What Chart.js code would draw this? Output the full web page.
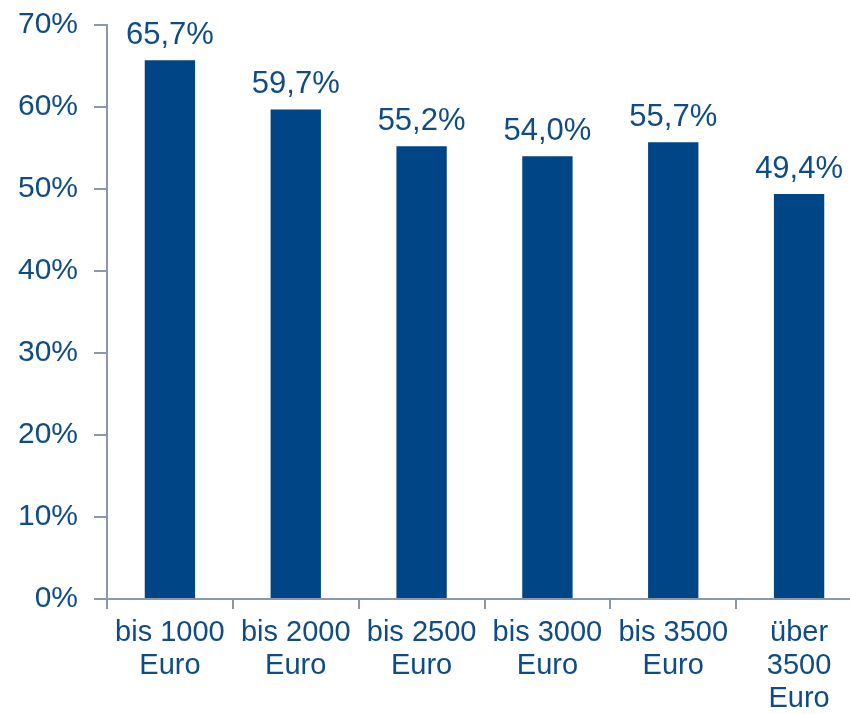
<!DOCTYPE html>
<html>
<head>
<meta charset="utf-8">
<script src="https://cdn.jsdelivr.net/npm/chart.js@4/dist/chart.umd.min.js"></script>
<style>
  html, body { margin: 0; padding: 0; background: #fff; overflow: hidden; }
  #wrap { width: 862px; height: 714px; }
</style>
</head>
<body>
<div id="wrap"><canvas id="incomeChart" width="862" height="714"></canvas></div>
<script>
const categories = [['bis 1000', 'Euro'], ['bis 2000', 'Euro'], ['bis 2500', 'Euro'], ['bis 3000', 'Euro'], ['bis 3500', 'Euro'], ['über', '3500', 'Euro']];
const shares = [65.7, 59.7, 55.2, 54.0, 55.7, 49.4];
const yTicks = [0, 10, 20, 30, 40, 50, 60, 70];

const textColor = '#0f4c86';
const barColor = '#004585';
const axisColor = '#8c96ad';

// values over the bars, German decimal comma
const valueLabels = {
    id: 'valueLabels',
    afterDatasetsDraw(chart) {
        const ctx = chart.ctx;
        ctx.save();
        ctx.font = '31px "Liberation Sans", Arial, sans-serif';
        ctx.fillStyle = textColor;
        ctx.textAlign = 'center';
        ctx.textBaseline = 'alphabetic';
        chart.getDatasetMeta(0).data.forEach(function(bar, i) {
            ctx.fillText(shares[i].toFixed(1).replace('.', ',') + '%', bar.x, bar.y - 16);
        });
        ctx.restore();
    }
};

const ctx = document.getElementById('incomeChart').getContext('2d');
const incomeChart = new Chart(ctx, {
    type: 'bar',
    data: {
        labels: categories,
        datasets: [{
            data: shares,
            backgroundColor: barColor,
            barPercentage: 0.4,
            categoryPercentage: 1.0
        }]
    },
    options: {
        responsive: false,
        animation: false,
        layout: { padding: { top: 25, right: 0, left: 0, bottom: 0 } },
        plugins: {
            legend: { display: false },
            tooltip: { enabled: false }
        },
        scales: {
            x: {
                grid: {
                    drawOnChartArea: false,
                    color: axisColor,
                    lineWidth: 2,
                    tickLength: 10
                },
                border: { color: axisColor, width: 2 },
                ticks: {
                    color: textColor,
                    font: { family: '"Liberation Sans", Arial, sans-serif', size: 29, lineHeight: 1.15 },
                    padding: 7,
                    maxRotation: 0,
                    autoSkip: false
                },
                afterFit: function(scale) { scale.height = 115; }
            },
            y: {
                min: 0,
                max: 70,
                afterBuildTicks: function(scale) {
                    scale.ticks = yTicks.map(function(v) { return { value: v }; });
                },
                grid: {
                    drawOnChartArea: false,
                    color: axisColor,
                    lineWidth: 2,
                    tickLength: 13
                },
                border: { color: axisColor, width: 2 },
                ticks: {
                    color: textColor,
                    font: { family: '"Liberation Sans", Arial, sans-serif', size: 30 },
                    padding: 16,
                    callback: function(v) { return v + '%'; }
                },
                afterFit: function(scale) {
                    scale.width = 107;
                    scale.paddingTop = 0;
                    scale.paddingBottom = 0;
                }
            }
        }
    },
    plugins: [valueLabels]
});
</script>
</body>
</html>
